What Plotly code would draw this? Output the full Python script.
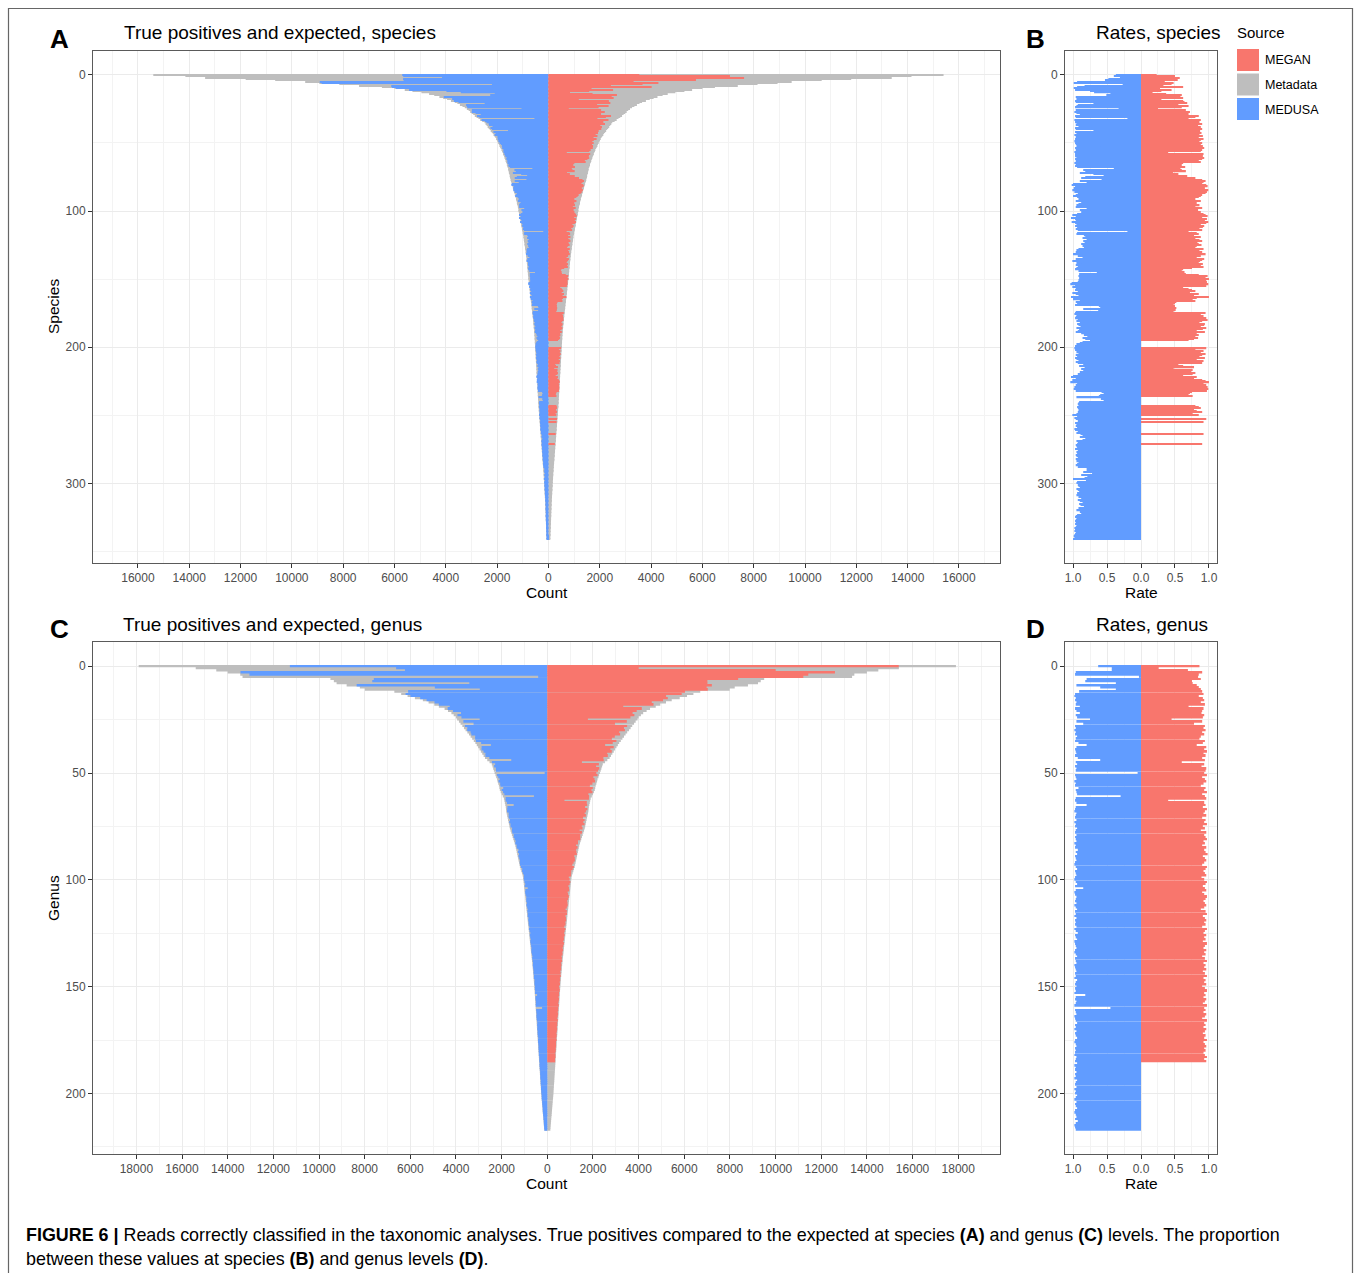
import plotly.graph_objects as go

W, H = 1355, 1273
FONT = "Liberation Sans, Arial, sans-serif"

# ---------------- data ----------------
# expected reads per species (Metadata), sorted
SPECIES_EXPECTED = [
    15400, 14150, 13380, 11800, 10650, 9480, 8930, 8150, 7380, 6490,
    6000, 5600, 5300, 4950, 4650, 4450, 4250, 4100, 3950, 3800,
    3650, 3550, 3450, 3350, 3260, 3180, 3110, 3050, 2990, 2930,
    2870, 2800, 2730, 2660, 2580, 2490, 2450, 2410, 2370, 2330,
    2290, 2250, 2210, 2170, 2140, 2100, 2070, 2040, 2010, 1990,
    1960, 1930, 1910, 1880, 1860, 1830, 1810, 1790, 1770, 1750,
    1730, 1710, 1690, 1670, 1650, 1630, 1620, 1600, 1590, 1570,
    1560, 1550, 1540, 1520, 1510, 1500, 1490, 1475, 1460, 1445,
    1430, 1415, 1400, 1385, 1370, 1355, 1340, 1325, 1310, 1295,
    1280, 1265, 1250, 1240, 1230, 1220, 1205, 1190, 1180, 1170,
    1165, 1155, 1145, 1135, 1125, 1115, 1105, 1095, 1085, 1075,
    1065, 1055, 1045, 1035, 1025, 1015, 1005, 995, 985, 975,
    968, 960, 952, 944, 936, 928, 920, 912, 905, 898,
    890, 883, 876, 870, 864, 858, 852, 846, 840, 835,
    830, 825, 820, 815, 810, 805, 800, 795, 790, 785,
    780, 774, 768, 762, 756, 750, 744, 738, 732, 726,
    720, 714, 708, 702, 696, 690, 684, 678, 672, 666,
    660, 654, 648, 642, 636, 630, 624, 618, 612, 606,
    600, 595, 590, 585, 580, 575, 570, 565, 560, 556,
    552, 548, 544, 540, 537, 534, 531, 528, 525, 522,
    519, 516, 513, 510, 507, 504, 501, 498, 495, 492,
    489, 486, 483, 480, 477, 474, 471, 468, 465, 462,
    459, 456, 453, 450, 447, 444, 441, 438, 435, 432,
    429, 426, 423, 420, 417, 414, 411, 408, 405, 402,
    399, 396, 393, 390, 386, 382, 378, 374, 370, 366,
    362, 358, 354, 350, 346, 342, 338, 334, 330, 326,
    322, 318, 314, 310, 306, 302, 298, 294, 290, 286,
    282, 278, 274, 270, 266, 262, 258, 254, 250, 246,
    242, 238, 234, 230, 226, 222, 218, 214, 210, 206,
    202, 198, 194, 190, 187, 184, 181, 178, 175, 172,
    169, 166, 163, 160, 157, 154, 151, 148, 145, 142,
    139, 136, 133, 130, 128, 126, 124, 122, 120, 118,
    116, 114, 112, 110, 108, 106, 104, 102, 100, 98,
    96, 94, 92, 90, 88, 86, 84, 82, 80, 78,
    76, 74,
]

# MEDUSA true-positive rate per species (percent of expected)
SPECIES_MEDUSA_RATE = [
    37, 40, 31, 48, 53, 94, 99, 27, 83, 94,
    99, 97, 75, 69, 45, 51, 96, 60, 95, 97,
    96, 70, 93, 95, 97, 33, 96, 98, 95, 90,
    97, 96, 20, 98, 96, 97, 95, 96, 92, 97,
    96, 70, 97, 95, 98, 92, 96, 97, 95, 98,
    97, 96, 95, 60, 97, 96, 45, 98, 97, 96,
    97, 95, 97, 96, 10, 98, 96, 97, 94, 40,
    85, 82, 90, 70, 55, 82, 88, 58, 90, 80,
    100, 102, 97, 99, 95, 101, 98, 93, 96, 100,
    94, 92, 90, 96, 88, 92, 95, 96, 80, 90,
    75, 88, 94, 101, 96, 103, 97, 96, 102, 97,
    95, 97, 94, 96, 93, 20, 94, 95, 84, 82,
    86, 80, 85, 83, 88, 81, 86, 84, 92, 95,
    96, 94, 100, 93, 86, 96, 92, 101, 95, 88,
    96, 93, 95, 97, 92, 65, 91, 90, 92, 91,
    90, 92, 93, 102, 104, 97, 101, 96, 97, 93,
    101, 96, 92, 103, 95, 100, 90, 96, 94, 97,
    62, 60, 85, 63, 96, 97, 98, 95, 96, 97,
    93, 95, 90, 94, 92, 89, 95, 91, 93, 96,
    88, 84, 79, 86, 82, 75, 86, 90, 95, 97,
    96, 98, 97, 93, 95, 92, 96, 94, 97, 95,
    92, 96, 93, 85, 91, 83, 88, 85, 90, 87,
    93, 100, 103, 96, 101, 95, 104, 94, 96, 98,
    97, 99, 96, 58, 55, 60, 62, 95, 59, 55,
    91, 92, 93, 92, 94, 93, 92, 91, 93, 95,
    101, 94, 98, 96, 93, 92, 97, 95, 96, 94,
    98, 97, 93, 95, 89, 86, 90, 82, 86, 95,
    93, 94, 96, 95, 94, 97, 93, 95, 94, 96,
    95, 93, 96, 94, 95, 92, 94, 96, 93, 80,
    80, 76, 85, 72, 88, 79, 83, 100, 81, 94,
    95, 93, 92, 90, 95, 93, 91, 94, 92, 95,
    92, 88, 93, 90, 86, 91, 89, 84, 92, 87,
    95, 90, 88, 94, 96, 97, 95, 96, 97, 96,
    97, 95, 96, 98, 97, 98, 96, 97, 98, 99,
    98, 100,
]

# MEGAN true-positive rate per species (percent), species found by MEGAN only
SPECIES_MEGAN_RATE = [
    23, 50, 57, 40, 54, 35, 48, 45, 33, 62,
    28, 45, 30, 17, 37, 60, 58, 62, 30, 62,
    64, 68, 55, 70, 60, 25, 66, 72, 55, 70,
    85, 80, 70, 88, 82, 86, 90, 84, 88, 85,
    90, 87, 80, 89, 86, 91, 85, 92, 88, 86,
    90, 88, 91, 85, 93, 90, 88, 40, 92, 90,
    91, 93, 90, 85, 88, 62, 60, 55, 65, 58,
    60, 66, 47, 55, 68, 62, 80, 90, 95, 92,
    90, 96, 98, 94, 92, 99, 97, 95, 90, 88,
    85, 80, 78, 88, 82, 75, 86, 80, 90, 84,
    78, 88, 92, 95, 98, 90, 97, 94, 99, 96,
    88, 93, 91, 86, 90, 70, 82, 85, 78, 88,
    80, 86, 90, 83, 85, 89, 82, 80, 92, 86,
    90, 84, 95, 88, 82, 93, 90, 87, 85, 91,
    88, 92, 75, 62, 60, 64, 66, 85, 98, 95,
    100, 96, 97, 94, 99, 96, 62, 70, 75, 80,
    72, 85, 78, 100, 82, 76, 80, 52, 50, 48,
    50, 52, 49, 51, 48, 95, 88, 92, 85, 96,
    98, 90, 86, 94, 93, 88, 96, 91, 82, 94,
    82, 85, 80, 84, 78, 70, 0, 0, 0, 0,
    0, 96, 80, 92, 88, 95, 90, 86, 94, 82,
    92, 85, 90, 55, 62, 78, 48, 76, 74, 80,
    76, 62, 82, 78, 90, 95, 100, 92, 96, 98,
    88, 99, 97, 75, 72, 70, 76, 0, 0, 0,
    0, 0, 0, 80, 85, 88, 78, 82, 90, 76,
    85, 0, 0, 96, 0, 92, 0, 0, 0, 0,
    0, 0, 0, 0, 92, 0, 0, 0, 0, 0,
    0, 90,
]

# expected reads per genus (Metadata), sorted
GENUS_EXPECTED = [
    17900, 15400, 14500, 14000, 13450, 13350, 9500, 9350, 9230, 8790,
    8210, 7990, 6700, 6400, 6120, 5800, 5450, 5200, 4950, 4750,
    4500, 4350, 4200, 4100, 4000, 3950, 3870, 3800, 3720, 3650,
    3580, 3500, 3430, 3360, 3290, 3220, 3150, 3090, 3030, 2970,
    2910, 2850, 2790, 2730, 2630, 2530, 2430, 2400, 2370, 2340,
    2310, 2270, 2240, 2200, 2180, 2150, 2120, 2100, 2080, 2040,
    2000, 1950, 1900, 1880, 1860, 1840, 1820, 1810, 1800, 1780,
    1760, 1740, 1720, 1700, 1680, 1660, 1640, 1610, 1580, 1550,
    1520, 1490, 1460, 1430, 1400, 1380, 1360, 1340, 1320, 1300,
    1280, 1260, 1240, 1220, 1200, 1170, 1140, 1110, 1080, 1060,
    1050, 1040, 1030, 1020, 1010, 1000, 990, 980, 970, 960,
    950, 940, 930, 920, 910, 900, 890, 880, 870, 860,
    850, 840, 830, 820, 810, 800, 790, 780, 770, 760,
    750, 740, 730, 720, 710, 700, 690, 680, 670, 660,
    650, 642, 634, 626, 618, 610, 602, 594, 586, 578,
    570, 564, 558, 552, 546, 540, 534, 528, 522, 516,
    510, 504, 498, 492, 486, 480, 474, 468, 462, 456,
    450, 444, 438, 432, 426, 420, 414, 408, 402, 396,
    390, 384, 378, 372, 366, 360, 354, 348, 342, 336,
    330, 324, 318, 312, 306, 300, 294, 288, 282, 276,
    270, 262, 254, 246, 238, 230, 222, 214, 206, 198,
    190, 182, 174, 166, 158, 150, 142, 134,
]

GENUS_MEDUSA_RATE = [
    63, 43, 43, 96, 97, 3, 80, 82, 37, 95,
    60, 37, 91, 97, 98, 96, 97, 95, 96, 90,
    97, 95, 90, 96, 94, 75, 95, 85, 97, 96,
    98, 96, 97, 94, 96, 97, 92, 80, 95, 97,
    96, 95, 97, 93, 60, 96, 94, 97, 95, 96,
    5, 97, 96, 95, 98, 96, 97, 92, 96, 95,
    94, 30, 96, 97, 95, 80, 96, 97, 98, 95,
    96, 97, 95, 98, 96, 97, 94, 96, 97, 95,
    97, 96, 95, 98, 96, 97, 93, 96, 94, 97,
    96, 95, 97, 98, 96, 94, 97, 96, 95, 97,
    98, 96, 94, 97, 85, 96, 98, 97, 95, 96,
    97, 95, 98, 96, 94, 97, 96, 98, 95, 97,
    96, 97, 95, 98, 96, 93, 97, 96, 94, 98,
    97, 96, 95, 97, 98, 96, 94, 97, 96, 95,
    98, 97, 96, 95, 97, 96, 98, 94, 96, 97,
    95, 97, 96, 98, 82, 96, 97, 95, 96, 98,
    45, 97, 96, 95, 98, 97, 96, 94, 97, 96,
    98, 95, 97, 96, 94, 97, 98, 96, 95, 97,
    96, 97, 98, 95, 96, 97, 94, 98, 96, 97,
    95, 97, 96, 98, 94, 96, 97, 95, 98, 96,
    97, 94, 96, 98, 95, 97, 96, 94, 97, 98,
    96, 95, 97, 93, 96, 98, 97, 96,
]

GENUS_MEGAN_RATE = [
    86, 26, 69, 90, 85, 84, 88, 75, 76, 82,
    85, 88, 90, 92, 85, 91, 93, 88, 94, 70,
    92, 90, 89, 93, 91, 45, 90, 78, 94, 92,
    95, 90, 93, 88, 86, 94, 91, 82, 96, 93,
    97, 92, 95, 90, 94, 60, 93, 89, 96, 95,
    93, 97, 90, 94, 96, 92, 88, 95, 93, 97,
    90, 94, 96, 40, 93, 95, 91, 97, 94, 92,
    96, 90, 95, 93, 97, 91, 94, 88, 96, 93,
    95, 97, 92, 94, 90, 96, 93, 95, 98, 91,
    94, 96, 93, 90, 97, 95, 92, 94, 96, 89,
    93, 97, 95, 91, 94, 96, 90, 93, 97, 95,
    92, 94, 96, 93, 88, 95, 97, 91, 94, 96,
    93, 95, 90, 97, 94, 92, 96, 93, 95, 91,
    97, 94, 92, 96, 93, 95, 90, 94, 97, 92,
    95, 93, 96, 91, 94, 97, 92, 95, 93, 96,
    90, 94, 97, 93, 95, 92, 96, 94, 91, 97,
    93, 95, 92, 96, 94, 90, 97, 93, 95, 92,
    96, 94, 91, 95, 93, 97, 92, 94, 96, 93,
    95, 92, 94, 97, 93, 96,
]

SPECIES_COUNT_TICKS = [-16000, -14000, -12000, -10000, -8000, -6000, -4000, -2000, 0,
                       2000, 4000, 6000, 8000, 10000, 12000, 14000, 16000]
SPECIES_COUNT_LABELS = ["16000", "14000", "12000", "10000", "8000", "6000", "4000", "2000", "0",
                        "2000", "4000", "6000", "8000", "10000", "12000", "14000", "16000"]
GENUS_COUNT_TICKS = [-18000, -16000, -14000, -12000, -10000, -8000, -6000, -4000, -2000, 0,
                     2000, 4000, 6000, 8000, 10000, 12000, 14000, 16000, 18000]
GENUS_COUNT_LABELS = ["18000", "16000", "14000", "12000", "10000", "8000", "6000", "4000", "2000", "0",
                      "2000", "4000", "6000", "8000", "10000", "12000", "14000", "16000", "18000"]
RATE_TICKS = [-1.0, -0.5, 0.0, 0.5, 1.0]
RATE_LABELS = ["1.0", "0.5", "0.0", "0.5", "1.0"]
SPECIES_ROW_TICKS = [0, 100, 200, 300]
GENUS_ROW_TICKS = [0, 50, 100, 150, 200]

SOURCES = ["MEGAN", "Metadata", "MEDUSA"]
COLORS = {"MEGAN": "#F8766D", "Metadata": "#BEBEBE", "MEDUSA": "#619CFF"}

# ---------------- derived ----------------
sp_rows = list(range(len(SPECIES_EXPECTED)))
ge_rows = list(range(len(GENUS_EXPECTED)))
sp_medusa = [e * r / 100 for e, r in zip(SPECIES_EXPECTED, SPECIES_MEDUSA_RATE)]
sp_megan = [e * r / 100 for e, r in zip(SPECIES_EXPECTED, SPECIES_MEGAN_RATE)]
ge_medusa = [e * r / 100 for e, r in zip(GENUS_EXPECTED, GENUS_MEDUSA_RATE)]
ge_megan = [e * r / 100 for e, r in zip(GENUS_EXPECTED, GENUS_MEGAN_RATE)]


def px(x):
    return x / W


def py(y):
    return 1 - y / H


fig = go.Figure()


def hbar(x, y, color, xa, ya):
    fig.add_trace(go.Bar(
        x=x, y=y, orientation="h", width=0.9, base=0,
        marker=dict(color=color, line=dict(width=0)),
        xaxis=xa, yaxis=ya, showlegend=False, hoverinfo="skip"))


# panel A
hbar([-v for v in SPECIES_EXPECTED], sp_rows, COLORS["Metadata"], "x", "y")
hbar(SPECIES_EXPECTED, sp_rows, COLORS["Metadata"], "x", "y")
hbar([-v for v in sp_medusa], sp_rows[:len(sp_medusa)], COLORS["MEDUSA"], "x", "y")
hbar(sp_megan, sp_rows[:len(sp_megan)], COLORS["MEGAN"], "x", "y")
# panel B
hbar([-r / 100 for r in SPECIES_MEDUSA_RATE], sp_rows[:len(SPECIES_MEDUSA_RATE)], COLORS["MEDUSA"], "x2", "y2")
hbar([r / 100 for r in SPECIES_MEGAN_RATE], sp_rows[:len(SPECIES_MEGAN_RATE)], COLORS["MEGAN"], "x2", "y2")
# panel C
hbar([-v for v in GENUS_EXPECTED], ge_rows, COLORS["Metadata"], "x3", "y3")
hbar(GENUS_EXPECTED, ge_rows, COLORS["Metadata"], "x3", "y3")
hbar([-v for v in ge_medusa], ge_rows[:len(ge_medusa)], COLORS["MEDUSA"], "x3", "y3")
hbar(ge_megan, ge_rows[:len(ge_megan)], COLORS["MEGAN"], "x3", "y3")
# panel D
hbar([-r / 100 for r in GENUS_MEDUSA_RATE], ge_rows[:len(GENUS_MEDUSA_RATE)], COLORS["MEDUSA"], "x4", "y4")
hbar([r / 100 for r in GENUS_MEGAN_RATE], ge_rows[:len(GENUS_MEGAN_RATE)], COLORS["MEGAN"], "x4", "y4")

GRID = "#EBEBEB"
MINOR = "#F3F3F3"
BORDER = "#5a5a5a"


def axis(domain, rng, tickvals, ticktext, minor_dtick, anchor):
    return dict(
        domain=domain, range=rng, anchor=anchor,
        tickmode="array", tickvals=tickvals, ticktext=ticktext,
        ticks="outside", ticklen=4, tickwidth=1, tickcolor="#333333",
        tickfont=dict(size=12, color="#4D4D4D", family=FONT),
        showline=True, linecolor=BORDER, linewidth=1, mirror=True,
        showgrid=True, gridcolor=GRID, gridwidth=1.3, zeroline=False,
        minor=dict(tickmode="linear", tick0=0, dtick=minor_dtick, showgrid=True,
                   gridcolor=MINOR, gridwidth=0.7, ticks=""),
        fixedrange=True,
    )


XA_DOM = [px(93), px(1000)]
XB_DOM = [px(1065), px(1217)]
Y_TOP_DOM = [py(563), py(51)]
Y_BOT_DOM = [py(1154), py(642)]

sp_n = len(SPECIES_EXPECTED)
ge_n = len(GENUS_EXPECTED)
sp_pad = (sp_n - 0.1) * 0.05
ge_pad = (ge_n - 0.1) * 0.05
sp_yr = [sp_n - 0.55 + sp_pad, -0.45 - sp_pad]
ge_yr = [ge_n - 0.55 + ge_pad, -0.45 - ge_pad]

fig.update_layout(
    width=W, height=H, margin=dict(l=0, r=0, t=0, b=0),
    paper_bgcolor="white", plot_bgcolor="white",
    barmode="overlay", showlegend=False,
    font=dict(family=FONT, color="black"),
    xaxis=axis(XA_DOM, [-17750, 17600], SPECIES_COUNT_TICKS, SPECIES_COUNT_LABELS, 1000, "y"),
    yaxis=axis(Y_TOP_DOM, sp_yr, SPECIES_ROW_TICKS, [str(v) for v in SPECIES_ROW_TICKS], 50, "x"),
    xaxis2=axis(XB_DOM, [-1.118, 1.118], RATE_TICKS, RATE_LABELS, 0.25, "y2"),
    yaxis2=axis(Y_TOP_DOM, sp_yr, SPECIES_ROW_TICKS, [str(v) for v in SPECIES_ROW_TICKS], 50, "x2"),
    xaxis3=axis(XA_DOM, [-19900, 19830], GENUS_COUNT_TICKS, GENUS_COUNT_LABELS, 1000, "y3"),
    yaxis3=axis(Y_BOT_DOM, ge_yr, GENUS_ROW_TICKS, [str(v) for v in GENUS_ROW_TICKS], 25, "x3"),
    xaxis4=axis(XB_DOM, [-1.118, 1.118], RATE_TICKS, RATE_LABELS, 0.25, "y4"),
    yaxis4=axis(Y_BOT_DOM, ge_yr, GENUS_ROW_TICKS, [str(v) for v in GENUS_ROW_TICKS], 25, "x4"),
)

annots = []


def ann(text, x, y, size, xanchor="left", yanchor="middle", angle=0, color="black"):
    annots.append(dict(
        text=text, x=px(x), y=py(y), xref="paper", yref="paper",
        xanchor=xanchor, yanchor=yanchor, showarrow=False, textangle=angle,
        font=dict(size=size, color=color, family=FONT)))


# panel letters and titles
ann("<b>A</b>", 60, 39, 26, xanchor="center")
ann("True positives and expected, species", 122, 33, 19)
ann("<b>B</b>", 1035, 39, 26, xanchor="center")
ann("Rates, species", 1094, 33, 19)
ann("<b>C</b>", 60, 629, 26, xanchor="center")
ann("True positives and expected, genus", 121, 624, 19)
ann("<b>D</b>", 1035, 629, 26, xanchor="center")
ann("Rates, genus", 1094, 624, 19)

# axis titles
ann("Count", 547, 592, 15.5, xanchor="center")
ann("Rate", 1141, 592, 15.5, xanchor="center")
ann("Count", 547, 1183, 15.5, xanchor="center")
ann("Rate", 1141, 1183, 15.5, xanchor="center")
ann("Species", 53, 307, 15.5, xanchor="center", angle=-90)
ann("Genus", 53, 898, 15.5, xanchor="center", angle=-90)

# legend
ann("Source", 1235, 32, 15)
shapes = []
leg_y = [49, 73.5, 98]
for name, y0 in zip(SOURCES, leg_y):
    shapes.append(dict(type="rect", xref="paper", yref="paper",
                       x0=px(1237), x1=px(1259), y0=py(y0), y1=py(y0 + 22),
                       fillcolor=COLORS[name], line=dict(width=0)))
    ann(name, 1263, y0 + 11.5, 12.5)

# caption
ann("<b>FIGURE 6 |</b> Reads correctly classified in the taxonomic analyses. True positives compared to the "
    "expected at species <b>(A)</b> and genus <b>(C)</b> levels. The proportion", 24, 1235, 17.9)
ann("between these values at species <b>(B)</b> and genus levels <b>(D)</b>.", 24, 1259, 17.9)

# outer frame
shapes.append(dict(type="rect", xref="paper", yref="paper",
                   x0=px(8.5), x1=px(1352.5), y0=py(1290), y1=py(8.5),
                   line=dict(color="#666666", width=1.2), fillcolor="rgba(0,0,0,0)"))

fig.update_layout(annotations=annots, shapes=shapes)
fig.write_html("out.html")
